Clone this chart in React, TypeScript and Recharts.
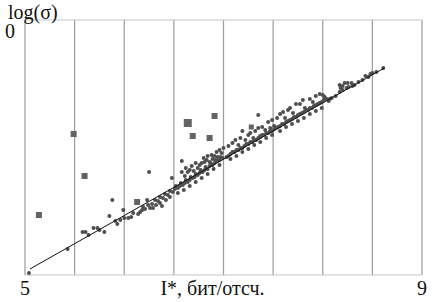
import React from 'react';
import { ScatterChart, Scatter, XAxis, YAxis, CartesianGrid } from 'recharts';

// x: I*, бит/отсч.; y: log(σ)
const xTicks = [5, 5.5, 6, 6.5, 7, 7.5, 8, 8.5, 9];
const yTicks = [-2.55, -1.475, -0.4];

// sparse left part
const dotsLeft: [number, number][] = [
  [5.04, -2.53], [5.43, -2.29], [5.58, -2.12], [5.61, -2.12], [5.64, -2.15], [5.69, -2.08],
  [5.73, -2.08], [5.75, -2.1], [5.8, -2.12], [5.85, -1.96], [5.88, -1.8], [5.91, -2.01],
  [5.93, -2.04], [5.96, -2.0], [5.99, -1.9], [6.0, -1.98],
  [6.04, -1.98], [6.07, -1.97], [6.09, -1.93], [6.14, -1.94], [6.16, -1.92], [6.18, -1.9],
  [6.19, -1.87], [6.21, -1.89], [6.23, -1.8], [6.24, -1.85], [6.25, -1.52], [6.26, -1.88],
  [6.28, -1.84], [6.29, -1.88], [6.31, -1.8], [6.32, -1.85], [6.34, -1.81], [6.36, -1.83],
  [6.36, -1.77], [6.38, -1.86], [6.39, -1.78], [6.41, -1.74], [6.42, -1.8], [6.44, -1.75],
  [6.46, -1.71], [6.46, -1.77], [6.48, -1.58], [6.49, -1.72],
];

// dense band 6.5 – 7.0
const dotsMid: [number, number][] = [
  [6.51, -1.69], [6.52, -1.66], [6.54, -1.68], [6.56, -1.66], [6.57, -1.63], [6.58, -1.41],
  [6.59, -1.65], [6.61, -1.63], [6.62, -1.6], [6.64, -1.62], [6.66, -1.6], [6.67, -1.57],
  [6.69, -1.58], [6.71, -1.57], [6.72, -1.54], [6.74, -1.55], [6.76, -1.53], [6.77, -1.5],
  [6.79, -1.52], [6.81, -1.5], [6.82, -1.47], [6.84, -1.49], [6.86, -1.46], [6.87, -1.43],
  [6.89, -1.45], [6.91, -1.43], [6.92, -1.4], [6.94, -1.41], [6.96, -1.4], [6.97, -1.37],
  [6.99, -1.38],
  [6.58, -1.52], [6.61, -1.56], [6.62, -1.48], [6.64, -1.52], [6.66, -1.5], [6.68, -1.46],
  [6.7, -1.51], [6.72, -1.43], [6.74, -1.48], [6.76, -1.45], [6.78, -1.43], [6.8, -1.38],
  [6.81, -1.42], [6.83, -1.4], [6.84, -1.36], [6.86, -1.42], [6.88, -1.35], [6.89, -1.39],
  [6.91, -1.36], [6.93, -1.32], [6.94, -1.37], [6.96, -1.3], [6.98, -1.33], [7.0, -1.28],
  [6.54, -1.73], [6.6, -1.7], [6.66, -1.66], [6.72, -1.62], [6.78, -1.58], [6.84, -1.54],
  [6.9, -1.49], [6.96, -1.45],
];

// dense band 7.0 – 7.5
const dotsUpper: [number, number][] = [
  [7.03, -1.37], [7.05, -1.36], [7.07, -1.34], [7.09, -1.32], [7.11, -1.32], [7.13, -1.3],
  [7.15, -1.3], [7.17, -1.28], [7.19, -1.28], [7.21, -1.26], [7.23, -1.24], [7.25, -1.24],
  [7.27, -1.22], [7.29, -1.22], [7.31, -1.2], [7.33, -1.2], [7.35, -1.18], [7.37, -1.17],
  [7.39, -1.15], [7.41, -1.15], [7.43, -1.13], [7.45, -1.13], [7.47, -1.11], [7.49, -1.11],
  [7.51, -1.09],
  [7.05, -1.26], [7.09, -1.23], [7.12, -1.2], [7.15, -1.25], [7.17, -1.18], [7.19, -1.11],
  [7.22, -1.2], [7.25, -1.15], [7.27, -1.13], [7.3, -1.18], [7.32, -1.11], [7.35, -1.08],
  [7.35, -0.95], [7.37, -1.16], [7.39, -1.07], [7.42, -1.1], [7.45, -1.02], [7.47, -1.08],
  [7.49, -1.0], [7.51, -1.06],
  [7.07, -1.39], [7.13, -1.36], [7.19, -1.32], [7.25, -1.29], [7.31, -1.25], [7.37, -1.22],
  [7.43, -1.18], [7.49, -1.15],
];

// band 7.5 – 8.6
const dotsRight: [number, number][] = [
  [7.53, -1.08], [7.55, -1.07], [7.57, -1.06], [7.59, -1.04], [7.61, -1.04], [7.63, -1.02],
  [7.65, -1.01], [7.67, -1.0], [7.69, -0.99], [7.71, -0.97], [7.73, -0.97], [7.75, -0.95],
  [7.77, -0.94], [7.79, -0.93], [7.81, -0.92], [7.83, -0.9], [7.85, -0.9], [7.87, -0.88],
  [7.89, -0.88], [7.91, -0.86], [7.93, -0.85], [7.95, -0.84], [7.97, -0.83], [7.99, -0.82],
  [8.01, -0.8],
  [7.54, -0.98], [7.57, -0.94], [7.6, -0.92], [7.62, -0.98], [7.65, -0.9], [7.67, -0.88],
  [7.7, -0.93], [7.73, -0.84], [7.77, -0.84], [7.8, -0.8], [7.82, -0.88], [7.87, -0.79],
  [7.9, -0.82], [7.93, -0.76], [7.97, -0.74], [8.0, -0.75],
  [7.57, -1.11], [7.63, -1.07], [7.69, -1.04], [7.75, -1.01], [7.81, -0.98], [7.87, -0.94],
  [7.93, -0.91], [7.99, -0.88],
  [8.02, -0.77], [8.04, -0.79], [8.06, -0.81], [8.07, -0.79], [8.09, -0.78], [8.13, -0.76],
  [8.17, -0.72], [8.17, -0.65], [8.18, -0.68], [8.2, -0.66], [8.2, -0.7], [8.22, -0.63],
  [8.24, -0.68], [8.25, -0.63], [8.26, -0.67], [8.29, -0.63], [8.3, -0.66], [8.32, -0.65],
  [8.36, -0.62], [8.4, -0.6], [8.43, -0.56], [8.46, -0.57], [8.48, -0.54], [8.5, -0.53],
  [8.54, -0.52], [8.61, -0.48],
];

// outliers drawn as squares
const squaresBig: [number, number][] = [[6.64, -1.03]];
const squares: [number, number][] = [
  [5.14, -1.95], [5.49, -1.14], [5.6, -1.56], [6.13, -1.82], [6.69, -1.16], [6.86, -1.18], [6.91, -0.96],
];
const squaresSmall: [number, number][] = [[7.28, -1.07]];

// regression line
const fitLine: [number, number][] = [[5.05, -2.49], [8.62, -0.48]];

const toPts = (arr: [number, number][]) => arr.map(([x, y]) => ({ x, y }));

const dots = toPts([...dotsLeft, ...dotsMid, ...dotsUpper, ...dotsRight]);

const FONT = '"Liberation Serif", "Times New Roman", serif';
const dotColor = '#4f4f4f';
const sqColor = '#636363';

const Dot = (props: any) => <circle cx={props.cx} cy={props.cy} r={2} fill={dotColor} />;
const makeSquare = (s: number) => (props: any) =>
  <rect x={props.cx - s / 2} y={props.cy - s / 2} width={s} height={s} fill={sqColor} />;
const NoShape = () => <g />;

const XTick = (props: any) => {
  const { x, y, payload } = props;
  if (payload.value !== 5 && payload.value !== 9) return <g />;
  return (
    <text x={x} y={y} dy={12} textAnchor="middle" fontFamily={FONT} fontSize={20} fill="#111">
      {payload.value}
    </text>
  );
};

const XLabel = (props: any) => {
  const vb = props.viewBox;
  return (
    <text x={vb.x + vb.width / 2 - 11} y={vb.y + 20} textAnchor="middle" fontFamily={FONT} fontSize={20} fill="#111">
      I*, бит/отсч.
    </text>
  );
};

const YLabel = (props: any) => {
  const vb = props.viewBox;
  return (
    <g fontFamily={FONT} fontSize={20} fill="#111">
      <text x={vb.x + 8} y={vb.y - 1}>log(σ)</text>
      <text x={vb.x + 10} y={vb.y + 18} textAnchor="middle">0</text>
    </g>
  );
};

export default function App() {
  return (
    <div style={{ position: 'absolute', left: 0, top: 0, width: 435, height: 302, background: '#fff' }}>
      <ScatterChart width={435} height={302} margin={{ top: 20, right: 13, bottom: 0, left: 0 }}>
        <CartesianGrid horizontal={false} stroke="#9c9c9c" strokeWidth={1.2} />
        <CartesianGrid vertical={false} stroke="#c6c6c6" strokeWidth={1.2} />
        <XAxis
          type="number"
          dataKey="x"
          domain={[5, 9]}
          ticks={xTicks}
          height={27}
          axisLine={false}
          tickLine={false}
          tick={<XTick />}
          interval={0}
          label={<XLabel />}
        />
        <YAxis
          type="number"
          dataKey="y"
          domain={[-2.55, 0]}
          ticks={yTicks}
          width={25}
          axisLine={false}
          tickLine={false}
          tick={false}
          label={<YLabel />}
        />
        <Scatter data={dots} shape={<Dot />} isAnimationActive={false} />
        <Scatter data={toPts(fitLine)} line={{ stroke: '#111', strokeWidth: 1 }} shape={<NoShape />} isAnimationActive={false} />
        <Scatter data={toPts(squares)} shape={makeSquare(6)} isAnimationActive={false} />
        <Scatter data={toPts(squaresBig)} shape={makeSquare(8)} isAnimationActive={false} />
        <Scatter data={toPts(squaresSmall)} shape={makeSquare(5)} isAnimationActive={false} />
      </ScatterChart>
    </div>
  );
}
